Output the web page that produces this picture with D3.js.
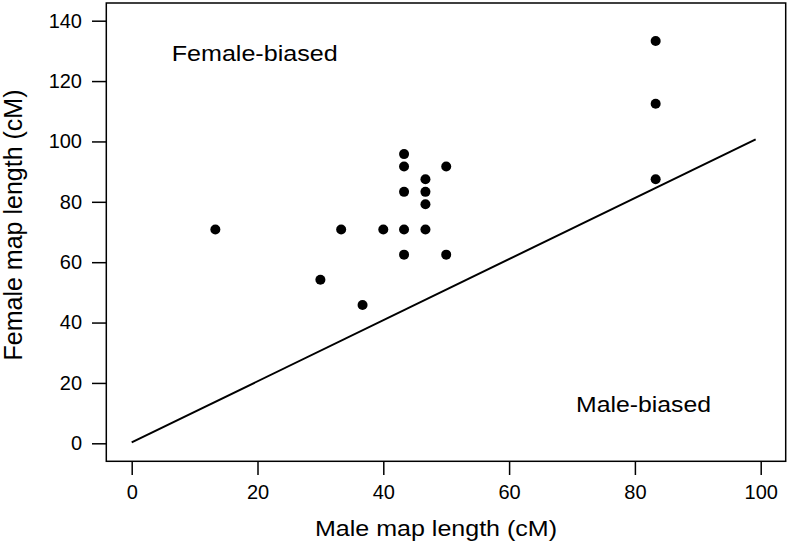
<!DOCTYPE html>
<html>
<head>
<meta charset="utf-8">
<script src="https://cdn.jsdelivr.net/npm/d3@7"></script>
<style>
  html, body { margin: 0; padding: 0; background: #fff; }
  svg { display: block; font-family: "Liberation Sans", Arial, Helvetica, sans-serif; }
</style>
</head>
<body>
<svg id="chart" width="789" height="544"></svg>
<script>
// Data
const maleLength   = [13.3, 30.0, 33.3, 36.7, 40.0, 43.3, 43.3, 43.3, 43.3, 43.3, 46.7, 46.7, 46.7, 46.7, 50.0, 50.0, 83.3, 83.3, 83.3];
const femaleLength = [70.8, 54.2, 70.8, 45.8, 70.8, 62.5, 70.8, 83.3, 91.7, 95.8, 70.8, 79.2, 83.3, 87.5, 62.5, 91.7, 87.5, 112.5, 133.3];
const lineX = [0, 99.2];
const lineY = [0.3, 100.7];
const xTicks = [0, 20, 40, 60, 80, 100];
const yTicks = [0, 20, 40, 60, 80, 100, 120, 140];
const xTitle = "Male map length (cM)";
const yTitle = "Female map length (cM)";
const annotations = ["Female-biased", "Male-biased"];

const svg = d3.select("#chart");
const box = { left: 106.3, right: 785.7, top: 3, bottom: 461.3 };

const x = d3.scaleLinear().domain([0, 100]).range([131.7, 760.7]);
const y = d3.scaleLinear().domain([0, 140]).range([443.3, 20.7]);

// frame
svg.append("rect")
  .attr("x", box.left).attr("y", box.top)
  .attr("width", box.right - box.left).attr("height", box.bottom - box.top)
  .attr("fill", "none").attr("stroke", "#000").attr("stroke-width", 1.5);

// x axis
const gx = svg.append("g")
  .attr("transform", `translate(0,${box.bottom})`)
  .call(d3.axisBottom(x).tickValues(xTicks).tickSize(13.7).tickPadding(10).tickFormat(d3.format("d")));
gx.select(".domain").remove();
gx.selectAll(".tick line").attr("stroke", "#000").attr("stroke-width", 1.5);
gx.selectAll(".tick text").attr("font-size", 20).attr("fill", "#000")
  .attr("font-family", "Liberation Sans, Arial, sans-serif");

// y axis
const gy = svg.append("g")
  .attr("transform", `translate(${box.left},0)`)
  .call(d3.axisLeft(y).tickValues(yTicks).tickSize(14.3).tickPadding(10).tickFormat(d3.format("d")));
gy.select(".domain").remove();
gy.selectAll(".tick line").attr("stroke", "#000").attr("stroke-width", 1.5);
gy.selectAll(".tick text").attr("font-size", 20).attr("fill", "#000")
  .attr("font-family", "Liberation Sans, Arial, sans-serif");

// equality line
svg.append("line")
  .attr("x1", x(lineX[0])).attr("y1", y(lineY[0]))
  .attr("x2", x(lineX[1])).attr("y2", y(lineY[1]))
  .attr("stroke", "#000").attr("stroke-width", 2);

// points
svg.append("g").selectAll("circle")
  .data(maleLength.map((m, i) => [m, femaleLength[i]]))
  .join("circle")
  .attr("cx", d => x(d[0]))
  .attr("cy", d => y(d[1]))
  .attr("r", 5)
  .attr("fill", "#000");

// annotations
svg.append("text")
  .attr("x", 171.7).attr("y", 60.7)
  .attr("font-size", 22)
  .attr("textLength", 166).attr("lengthAdjust", "spacingAndGlyphs")
  .text(annotations[0]);
svg.append("text")
  .attr("x", 576).attr("y", 412.3)
  .attr("font-size", 22)
  .attr("textLength", 135).attr("lengthAdjust", "spacingAndGlyphs")
  .text(annotations[1]);

// axis titles
svg.append("text")
  .attr("x", 315).attr("y", 536)
  .attr("font-size", 22)
  .attr("textLength", 242).attr("lengthAdjust", "spacingAndGlyphs")
  .text(xTitle);
svg.append("text")
  .attr("transform", "translate(21.7,225) rotate(-90)")
  .attr("text-anchor", "middle")
  .attr("font-size", 25)
  .text(yTitle);
</script>
</body>
</html>
